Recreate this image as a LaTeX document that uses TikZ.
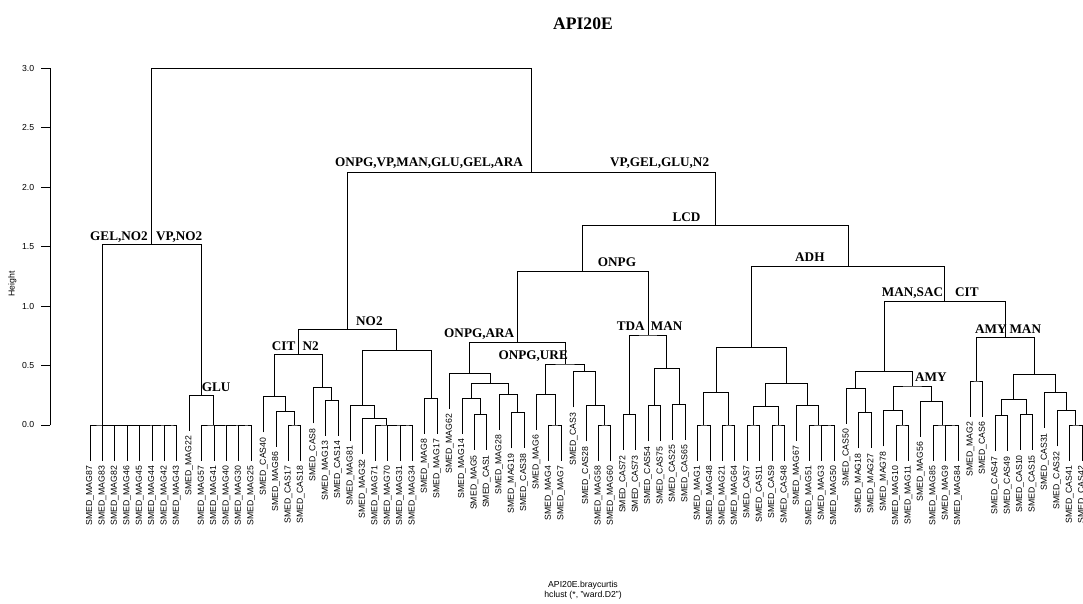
\documentclass[tikz,border=0pt]{standalone}
\usepackage{fontspec}
\setmainfont{Liberation Serif}
\setsansfont{Liberation Sans}
\usetikzlibrary{calc}

\tikzset{
  branch/.style={line width=0.75pt},
  leaflab/.style={font=\sffamily\fontsize{8.7}{10}\selectfont, rotate=90, anchor=east, inner xsep=5pt, inner ysep=0pt},
  cutlab/.style={font=\bfseries\fontsize{13.2}{15}\selectfont, anchor=base west, inner sep=0pt},
  axislab/.style={font=\sffamily\fontsize{8.7}{10}\selectfont, inner sep=0pt}
}
% juncao: nome, filho esquerdo, filho direito, altura
\newcommand\mrg[4]{%
  \path let \p1=(#2), \p2=(#3) in ({0.5*(\x1+\x2)},{178pt+118.9pt*(#4)}) coordinate (#1);
  \draw[branch] (#2) |- (#1) -| (#3);
}

\begin{document}
\begin{tikzpicture}[x=1pt,y=1pt]
  \useasboundingbox (0,0) rectangle (1083,603);
  % titulo
  \node[font=\bfseries\fontsize{17.6}{20}\selectfont, anchor=base] (title) at (583,573) {API20E};
  % eixo
  \coordinate (ax0) at (50,178);
  \coordinate (ax3) at (50,{178+3*118.9});
  \draw[branch] (ax0) -- (ax3);
  \foreach \v/\t [count=\k] in {0/0.0,0.5/0.5,1/1.0,1.5/1.5,2/2.0,2.5/2.5,3/3.0}{
    \coordinate (tk\k) at (50,{178+118.9*\v});
    \draw[branch] (tk\k) -- ++(-9.3,0) coordinate (te\k);
    \node[axislab, anchor=east] (tl\k) at ($(te\k)+(-6.4,0)$) {\t};
  }
  \node[axislab, rotate=90] (ylab) at (12.3,319) {Height};
  % folhas
  \foreach \lab/\hp [count=\i] in {MAG87/0,MAG83/0,MAG82/0,MAG46/0,MAG45/0,MAG44/0,MAG42/0,MAG43/0,
      MAG22/0.252,MAG57/0,MAG41/0,MAG40/0,MAG30/0,MAG25/0,CAS40/0.238,MAG86/0.118,CAS17/0,CAS18/0,
      CAS8/0.314,MAG13/0.21,CAS14/0.21,MAG81/0.168,MAG32/0.056,MAG71/0,MAG70/0,MAG31/0,MAG34/0,
      MAG8/0.225,MAG17/0.225,MAG62/0.435,MAG14/0.225,MAG5/0.09,CAS1/0.09,MAG28/0.261,MAG19/0.103,
      CAS38/0.103,MAG6/0.261,MAG4/0,MAG7/0,CAS3/0.448,CAS28/0.162,MAG58/0,MAG60/0,CAS72/0.088,
      CAS73/0.088,CAS54/0.162,CAS75/0.162,CAS25/0.177,CAS65/0.177,MAG1/0,MAG48/0,MAG21/0,MAG64/0,
      CAS7/0,CAS11/0,CAS9/0,CAS48/0,MAG67/0.168,MAG51/0,MAG3/0,MAG50/0,CAS50/0.309,MAG18/0.103,
      MAG27/0.103,MAG78/0.12,MAG10/0,MAG11/0,MAG56/0.202,MAG85/0,MAG9/0,MAG84/0,MAG2/0.37,CAS6/0.37,
      CAS47/0.078,CAS49/0.078,CAS10/0.09,CAS15/0.09,CAS31/0.275,CAS32/0.12,CAS41/0,CAS42/0}{
    \coordinate (l\i) at ({90+12.4*(\i-1)},{178+118.9*(\hp-0.3)});
    \node[leaflab] (t\i) at (l\i) {SMED\_\lab};
  }
  % ramo GEL,NO2 / VP,NO2
  \mrg{z7}{l7}{l8}{0} \mrg{z6}{l6}{z7}{0} \mrg{z5}{l5}{z6}{0} \mrg{z4}{l4}{z5}{0}
  \mrg{z3}{l3}{z4}{0} \mrg{z2}{l2}{z3}{0} \mrg{z1}{l1}{z2}{0}
  \mrg{y4}{l13}{l14}{0} \mrg{y3}{l12}{y4}{0} \mrg{y2}{l11}{y3}{0} \mrg{y1}{l10}{y2}{0}
  \mrg{glu}{l9}{y1}{0.252}
  \mrg{gel}{z1}{glu}{1.52}
  % ramo NO2
  \mrg{b1}{l17}{l18}{0} \mrg{b2}{l16}{b1}{0.118} \mrg{b3}{l15}{b2}{0.238}
  \mrg{b4}{l20}{l21}{0.21} \mrg{b5}{l19}{b4}{0.314}
  \mrg{cit}{b3}{b5}{0.597}
  \mrg{b6}{l26}{l27}{0} \mrg{b7}{l25}{b6}{0} \mrg{b8}{l24}{b7}{0}
  \mrg{b9}{l23}{b8}{0.056} \mrg{b10}{l22}{b9}{0.168}
  \mrg{b11}{l28}{l29}{0.225} \mrg{b12}{b10}{b11}{0.631}
  \mrg{no2}{cit}{b12}{0.807}
  % ramo ONPG
  \mrg{c1}{l32}{l33}{0.09} \mrg{c2}{l31}{c1}{0.225}
  \mrg{c3}{l35}{l36}{0.103} \mrg{c4}{l34}{c3}{0.261}
  \mrg{c5}{c2}{c4}{0.351} \mrg{c6}{l30}{c5}{0.435}
  \mrg{c7}{l38}{l39}{0} \mrg{c8}{l37}{c7}{0.261}
  \mrg{c9}{l42}{l43}{0} \mrg{c10}{l41}{c9}{0.162} \mrg{c11}{l40}{c10}{0.448}
  \mrg{ure}{c8}{c11}{0.513}
  \mrg{ara}{c6}{ure}{0.696}
  \mrg{c12}{l44}{l45}{0.088} \mrg{c13}{l46}{l47}{0.162} \mrg{c14}{l48}{l49}{0.177}
  \mrg{c15}{c13}{c14}{0.477} \mrg{tda}{c12}{c15}{0.757}
  \mrg{onpg}{ara}{tda}{1.289}
  % ramo ADH
  \mrg{d1}{l50}{l51}{0} \mrg{d2}{l52}{l53}{0} \mrg{d3}{d1}{d2}{0.275}
  \mrg{d4}{l54}{l55}{0} \mrg{d5}{l56}{l57}{0} \mrg{d6}{d4}{d5}{0.154}
  \mrg{d7}{l60}{l61}{0} \mrg{d8}{l59}{d7}{0} \mrg{d9}{l58}{d8}{0.168}
  \mrg{d10}{d6}{d9}{0.351} \mrg{d11}{d3}{d10}{0.65}
  \mrg{d12}{l63}{l64}{0.103} \mrg{d13}{l62}{d12}{0.309}
  \mrg{d14}{l66}{l67}{0} \mrg{d15}{l65}{d14}{0.12}
  \mrg{d16}{l70}{l71}{0} \mrg{d17}{l69}{d16}{0} \mrg{d18}{l68}{d17}{0.202}
  \mrg{d19}{d15}{d18}{0.328} \mrg{amy}{d13}{d19}{0.448}
  \mrg{d20}{l72}{l73}{0.37}
  \mrg{d21}{l74}{l75}{0.078} \mrg{d22}{l76}{l77}{0.09} \mrg{d23}{d21}{d22}{0.219}
  \mrg{d24}{l80}{l81}{0} \mrg{d25}{l79}{d24}{0.12} \mrg{d26}{l78}{d25}{0.275}
  \mrg{d27}{d23}{d26}{0.426}
  \mrg{amyman}{d20}{d27}{0.738}
  \mrg{sac}{amy}{amyman}{1.037}
  \mrg{adh}{d11}{sac}{1.337}
  % topo
  \mrg{lcd}{onpg}{adh}{1.678}
  \mrg{vp}{no2}{lcd}{2.125}
  \mrg{root}{gel}{vp}{3.0}
  % rotulos dos cortes
  \node[cutlab] (kGel) at (90,362.3) {GEL,NO2};
  \node[cutlab] (kVp) at (156,362.3) {VP,NO2};
  \node[cutlab] (kGlu) at (201.7,211.5) {GLU};
  \node[cutlab] (kNo2) at (356,278) {NO2};
  \node[cutlab] (kCit) at (271.7,253) {CIT};
  \node[cutlab] (kN2) at (302.3,253) {N2};
  \node[cutlab] (kOnpgVp) at (335,436) {ONPG,VP,MAN,GLU,GEL,ARA};
  \node[cutlab] (kVpGel) at (610,436) {VP,GEL,GLU,N2};
  \node[cutlab] (kLcd) at (672.3,381.3) {LCD};
  \node[cutlab] (kOnpg) at (597.7,336) {ONPG};
  \node[cutlab] (kAdh) at (795,341.3) {ADH};
  \node[cutlab] (kManSac) at (881.7,306) {MAN,SAC};
  \node[cutlab] (kCit2) at (955,306) {CIT};
  \node[cutlab] (kAra) at (444,265.5) {ONPG,ARA};
  \node[cutlab] (kUre) at (498.3,243.5) {ONPG,URE};
  \node[cutlab] (kTda) at (616.7,273) {TDA};
  \node[cutlab] (kMan) at (650.7,273) {MAN};
  \node[cutlab] (kAmy) at (915,222) {AMY};
  \node[cutlab] (kAmy2) at (975,270) {AMY};
  \node[cutlab] (kMan2) at (1009.3,270) {MAN};
  % legenda
  \node[axislab, anchor=base] (sub1) at (583,16) {API20E.braycurtis};
  \node[axislab, anchor=base] (sub2) at (583,5.5) {hclust (*, "ward.D2")};
\end{tikzpicture}
\end{document}
